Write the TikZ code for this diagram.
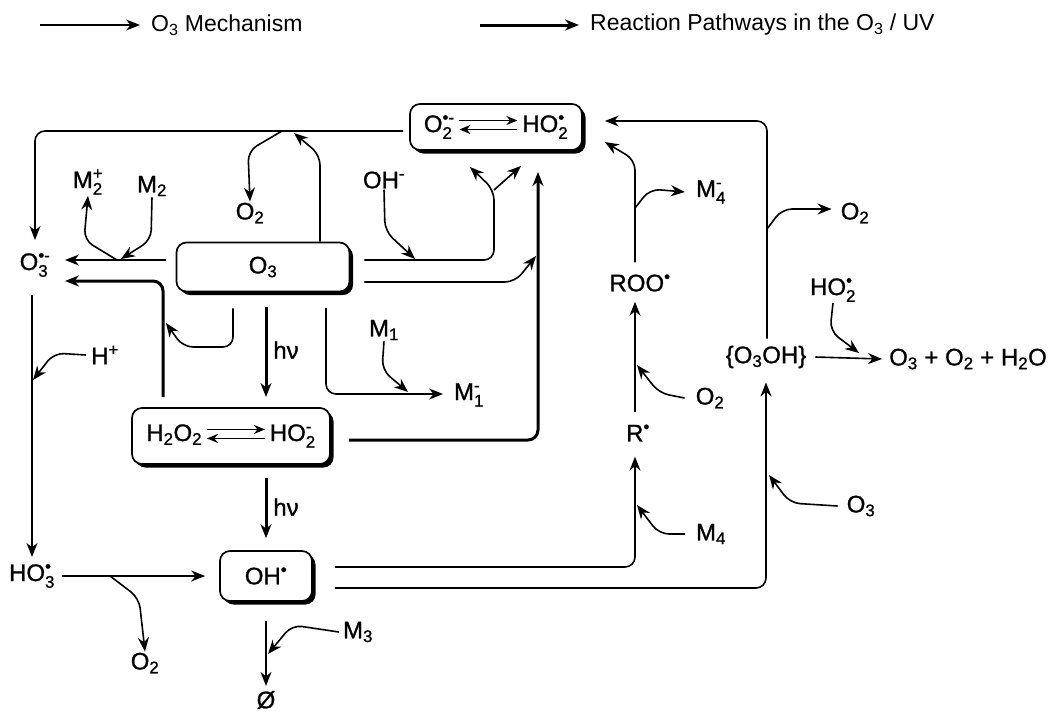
\documentclass[tikz,border=0pt]{standalone}
\usepackage{amsmath}
\usepackage{fontspec}
\setmainfont{Liberation Sans}
\usetikzlibrary{arrows.meta,shadows}

\newcommand{\rad}{\textbullet}
\newcommand{\subsup}[2]{$_{\text{#1}}^{\text{#2}}$}
\newcommand{\eqarr}{\tikz[baseline=-0.6ex,x=1pt,y=1pt]{%
  \draw[line width=1.8pt,-{Stealth[length=11pt,width=9pt]}] (0,4) -- (58,4);
  \draw[line width=1.8pt,-{Stealth[length=11pt,width=9pt]}] (58,-5) -- (0,-5);}}

\tikzset{
  lbl/.style={inner sep=1pt},
  stage/.style={draw,fill=white,line width=1.7pt,rounded corners=10pt,
    drop shadow={shadow xshift=3.5pt,shadow yshift=-3.5pt,fill=black,opacity=1}},
  arr/.style={line width=1.6pt,-{Stealth[length=14pt,width=11pt]},rounded corners=10pt},
  uvarr/.style={arr,line width=3pt},
}

\begin{document}
\begin{tikzpicture}[x=1pt,y=-1pt,font=\fontsize{24}{28}\selectfont\addfontfeature{FakeBold=1}]
\useasboundingbox (0,0) rectangle (1049,716);

% key
\node[lbl,anchor=west,font=\fontsize{23}{27}\selectfont] (keya) at (150,25) {O\textsubscript{3} Mechanism};
\node[lbl,anchor=west,font=\fontsize{23}{27}\selectfont] (keyb) at (589,25) {Reaction Pathways in the O\textsubscript{3} / UV};
\coordinate (ka) at (40,25);
\coordinate (kb) at (480,25);
\draw[arr] (ka) -- ([xshift=-10pt]keya.west);
\draw[uvarr] (kb) -- ([xshift=-10pt]keyb.west);

% boxed species
\node[stage,minimum width=172pt,minimum height=46pt] (sup) at (496,127)
  {O\subsup{2}{\rad-}\,\eqarr\,HO\subsup{2}{\rad}};
\node[stage,minimum width=173pt,minimum height=49pt] (ozone) at (263,267) {O\textsubscript{3}};
\node[stage,minimum width=198pt,minimum height=56pt] (perox) at (231,436)
  {H\textsubscript{2}O\textsubscript{2}\,\eqarr\,HO\subsup{2}{-}};
\node[stage,minimum width=92pt,minimum height=50pt] (hydrox) at (266,576) {OH\textsuperscript{\rad}};

% free species
\node[lbl] (ozrad) at (35,265) {O\subsup{3}{\rad-}};
\node[lbl] (mtwop) at (88,182) {M\subsup{2}{+}};
\node[lbl] (mtwo) at (152,186) {M\textsubscript{2}};
\node[lbl] (oxa) at (250,213) {O\textsubscript{2}};
\node[lbl] (hydrm) at (384,180) {OH\textsuperscript{-}};
\node[lbl] (mone) at (384,330) {M\textsubscript{1}};
\node[lbl] (monem) at (469,395) {M\subsup{1}{-}};
\node[lbl] (hplus) at (105,355) {H\textsuperscript{+}};
\node[lbl] (trioxr) at (32,576) {HO\subsup{3}{\rad}};
\node[lbl] (oxb) at (145,663) {O\textsubscript{2}};
\node[lbl] (mthree) at (358,632) {M\textsubscript{3}};
\node[lbl] (sink) at (266,700) {Ø};
\node[lbl] (hva) at (286,350) {hν};
\node[lbl] (hvb) at (286,507) {hν};
\node[lbl] (alkyl) at (638,433) {R\textsuperscript{\rad}};
\node[lbl] (perxr) at (640,283) {ROO\textsuperscript{\rad}};
\node[lbl] (mfourm) at (711,192) {M\subsup{4}{-}};
\node[lbl] (oxc) at (855,213) {O\textsubscript{2}};
\node[lbl] (hoxr) at (833,290) {HO\subsup{2}{\rad}};
\node[lbl] (adduct) at (766,357) {\{O\textsubscript{3}OH\}};
\node[lbl] (prod) at (968,359) {O\textsubscript{3} + O\textsubscript{2} + H\textsubscript{2}O};
\node[lbl] (oxd) at (710,398) {O\textsubscript{2}};
\node[lbl] (mfour) at (711,534) {M\textsubscript{4}};
\node[lbl] (ozr) at (861,506) {O\textsubscript{3}};

% junctions
\coordinate (ja) at (282,131);
\coordinate (jb) at (117,260);
\coordinate (jc) at (494,190);
\coordinate (jd) at (110,576);
\coordinate (je) at (635,208);
\coordinate (jf) at (767,229);

% O3 with superoxide
\draw[arr] ([xshift=-6pt,yshift=-4pt]sup.west) -| ([yshift=12pt]ozrad.north);
\draw[arr] (ja) -- (248,151) -- (oxa.north);
\draw[arr] ([xshift=57pt]ozone.north) -- (320,155) -- (294,133);

% O3 with M2
\draw[arr] ([xshift=-10pt,yshift=7pt]ozone.west) -- (65,260);
\draw[arr] (jb) -- (84,240) -- (mtwop.south);
\draw[arr] (mtwo.south) -- (151,240) -- (121,259);

% O3 with HO2-
\draw[uvarr] ([xshift=-68pt,yshift=10pt]perox.north) |- (65,281);
\draw[arr] ([xshift=-30pt,yshift=-16pt]ozone.south) -- (233,347) -- (183,347) -- (166,323);

% protonation
\draw[arr] ([xshift=-4pt]hplus.west) -- (54,353) -- (33,380);
\draw[arr] (32,295) -- ([yshift=6pt]trioxr.north);
\draw[arr] ([xshift=6pt]trioxr.east) -- ([xshift=-14pt]hydrox.west);
\draw[arr] (jd) -- (139,598) -- (oxb.north);

% photolysis
\draw[uvarr] (266,307) -- (266,397);
\draw[uvarr] (266,478) -- ([yshift=12pt]hydrox.north);

% O3 with M1
\draw[arr] (326,308) -- (326,394) -- (443,394);
\draw[arr] (mone.south) -- (382,370) -- (408,392);

% O3 with OH-
\draw[arr] ([xshift=14pt,yshift=7pt]ozone.east) -| (jc) -- (470,167);
\draw[arr] (jc) -- (521,166);
\draw[arr] (hydrm.south) -- (385,231) -- (415,259);
\draw[arr] ([xshift=14pt,yshift=-15pt]ozone.east) -- (515,282) -- (536,256);

% HO2- to superoxide
\draw[uvarr] ([xshift=18pt,yshift=-4pt]perox.east) -| (538,172);

% OH radical sinks
\draw[arr] (266,621) -- ([yshift=4pt]sink.north);
\draw[arr] ([xshift=-3pt]mthree.west) -- (292,625) -- (268,654);
\draw[arr] ([xshift=22pt,yshift=9pt]hydrox.east) -| ([yshift=-14pt]alkyl.south -| 635,0);
\draw[arr] ([xshift=22pt,yshift=-12pt]hydrox.east) -| ([yshift=-13pt]adduct.south);

% organic route
\draw[arr] ([xshift=-10pt]mfour.west) -- (659,534) -- (637,505);
\draw[arr] ([yshift=11pt]alkyl.north -| 635,0) -- ([yshift=-9pt]perxr.south -| 635,0);
\draw[arr] ([xshift=-10pt]oxd.west) -- (659,393) -- (637,365);
\draw[arr] ([yshift=11pt]perxr.north -| 635,0) -- (635,160) -- ([xshift=22pt,yshift=-15pt]sup.east);
\draw[arr] (je) -- (650,189) -- ([xshift=-10pt]mfourm.west);

% adduct route
\draw[arr] ([xshift=1pt,yshift=6pt]adduct.north) |- ([xshift=22pt,yshift=6pt]sup.east);
\draw[arr] (jf) -- (782,209) -- ([xshift=-8pt]oxc.west |- 0,209);
\draw[arr] (hoxr.south) -- (830,331) -- (859,353);
\draw[arr] ([xshift=8pt]adduct.east) -- ([xshift=-6pt]prod.west);
\draw[arr] ([xshift=-8pt]ozr.west) -- (790,503) -- (769,475);
\end{tikzpicture}
\end{document}
